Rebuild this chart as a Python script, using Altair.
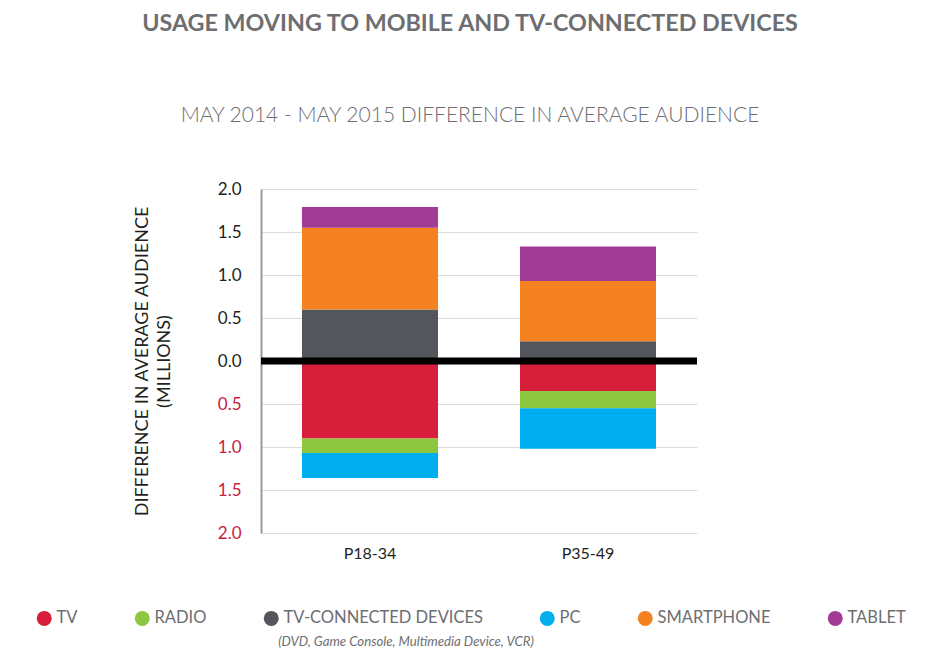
import altair as alt
import pandas as pd

# ---- data ----
groups = ["P18-34", "P35-49"]
devices = ["TV", "RADIO", "TV-CONNECTED DEVICES", "PC", "SMARTPHONE", "TABLET"]
colors = ["#d71f3c", "#8dc63f", "#53565a", "#00aeef", "#f58220", "#a23b94"]
p18_34 = [-0.90, -0.17, 0.60, -0.29, 0.95, 0.24]
p35_49 = [-0.35, -0.20, 0.23, -0.47, 0.70, 0.40]
stack_order = [0, 1, 3, 2, 4, 5]
y_ticks = [-2.0, -1.5, -1.0, -0.5, 0.0, 0.5, 1.0, 1.5, 2.0]

TITLE = "USAGE MOVING TO MOBILE AND TV-CONNECTED DEVICES"
SUBTITLE = "MAY 2014 - MAY 2015 DIFFERENCE IN AVERAGE AUDIENCE"
Y_TITLE = ["DIFFERENCE IN AVERAGE AUDIENCE", "(MILLIONS)"]
NOTE = "(DVD, Game Console, Multimedia Device, VCR)"

rows = []
for g, vals in zip(groups, [p18_34, p35_49]):
    for d, v, o in zip(devices, vals, stack_order):
        rows.append({"group": g, "device": d, "value": v, "order": o})
df = pd.DataFrame(rows)

FONT = "Lato"
GRAY = "#6d6e71"
DARK = "#231f20"
RED = "#c8203f"

bars = alt.Chart(df).mark_bar().encode(
    x=alt.X(
        "group:N",
        sort=groups,
        scale=alt.Scale(paddingInner=0.376, paddingOuter=0.188),
        axis=alt.Axis(
            title=None, labelAngle=0, labelFontSize=16, labelColor=DARK,
            labelFont=FONT, labelFontWeight="normal", domain=False, ticks=False,
            labelPadding=12, grid=False,
        ),
    ),
    y=alt.Y(
        "value:Q",
        stack="zero",
        scale=alt.Scale(domain=[-2, 2], nice=False),
        axis=alt.Axis(
            values=y_ticks,
            labelExpr="format(abs(datum.value), '.1f')",
            labelColor=alt.condition("datum.value < 0", alt.value(RED), alt.value(DARK)),
            labelFontSize=17,
            labelFont=FONT,
            labelPadding=20,
            grid=True,
            gridColor="#dcdcdc",
            gridWidth=1.2,
            domain=True,
            domainColor="#9a9a9a",
            domainWidth=2,
            ticks=False,
            title=Y_TITLE,
            titleFont=FONT,
            titleFontSize=18,
            titleFontWeight="normal",
            titleColor=DARK,
            titleLineHeight=22,
            titlePadding=44,
        ),
    ),
    color=alt.Color(
        "device:N",
        scale=alt.Scale(domain=devices, range=colors),
        legend=alt.Legend(
            orient="none",
            legendX=-225,
            legendY=421,
            direction="horizontal",
            columns=6,
            columnPadding=56,
            symbolType="circle",
            symbolSize=225,
            symbolStrokeWidth=0,
            labelFontSize=16.5,
            labelFont=FONT,
            labelColor=GRAY,
            labelOffset=4,
            labelLimit=400,
            title=None,
        ),
    ),
    order=alt.Order("order:Q"),
)

zero = alt.Chart(pd.DataFrame({"y": [0.0]})).mark_rule(
    color="black", strokeWidth=7
).encode(y="y:Q")

note = alt.Chart(pd.DataFrame({"t": [NOTE]})).mark_text(
    font=FONT, fontSize=13.2, fontStyle="italic", color=GRAY, align="center", baseline="middle"
).encode(x=alt.value(145), y=alt.value(453), text="t:N")

chart = alt.layer(bars, zero, note).properties(
    width=436,
    height=344,
    autosize=alt.AutoSizeParams(type="none"),
    padding={"left": 253, "top": 181, "right": 230, "bottom": 115},
    title=alt.TitleParams(
        text=TITLE,
        subtitle=SUBTITLE,
        font=FONT,
        fontSize=23.3,
        fontWeight="bold",
        color=GRAY,
        subtitleFont=FONT,
        subtitleFontSize=21,
        subtitleFontWeight=300,
        subtitleColor=GRAY,
        subtitlePadding=69,
        anchor="middle",
        dx=-9,
        offset=53,
    ),
).configure_view(strokeWidth=0)

chart.save("out.html", embed_options={"renderer": "svg", "actions": False})
